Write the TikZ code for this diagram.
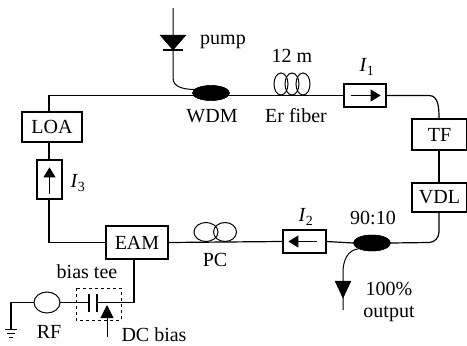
\documentclass[tikz,border=0pt]{standalone}
\usepackage{fontspec}
\setmainfont{Liberation Serif}
\usetikzlibrary{arrows.meta,shapes.geometric}
\tikzset{
  x=1pt,y=-1pt,
  wire/.style={line width=1.2pt,line cap=round},
  thinwire/.style={line width=1pt},
  box/.style={draw,line width=1.2pt,fill=white,inner sep=0pt,font=\fontsize{20}{22}\selectfont},
  lbl/.style={inner sep=0pt,font=\fontsize{20}{22}\selectfont},
  blob/.style={draw,fill=black,ellipse,inner sep=0pt},
  coil/.style={draw,line width=1pt,ellipse,inner sep=0pt},
  isoarrow/.style={line width=1.1pt,-{Triangle[length=10pt,width=12pt]}},
}
\begin{document}
\begin{tikzpicture}
\useasboundingbox (0,0) rectangle (467,346);
% corners and free ends
\coordinate (tl) at (49,96);
\coordinate (bl) at (49,242);
\coordinate (tr) at (439,96);
\coordinate (br) at (439,242);
\coordinate (pumptop) at (173,8);
\coordinate (pumpbend) at (173,78);
\coordinate (outbend) at (343,272);
\coordinate (outend) at (343,310);
\coordinate (eamjoin) at (134,302.5);
\coordinate (gndcorner) at (11,302.5);
\coordinate (gnd) at (11,329);
\coordinate (dcfoot) at (107,337);
\coordinate (dctip) at (107,305);
% main boxes
\node[box,minimum width=60pt,minimum height=30pt] (loa) at (52,127) {LOA};
\node[box,minimum width=25pt,minimum height=39pt] (i3) at (49.5,179.5) {};
\node[box,minimum width=62pt,minimum height=33pt] (eam) at (137,242.5) {EAM};
\node[box,minimum width=43pt,minimum height=23pt] (i2) at (304.5,241.5) {};
\node[box,minimum width=42pt,minimum height=23pt] (i1) at (365,95.5) {};
\node[box,minimum width=55pt,minimum height=31pt] (tf) at (439.5,134.5) {TF};
\node[box,minimum width=55pt,minimum height=29pt] (vdl) at (439.5,197.5) {VDL};
\node[blob,minimum width=37pt,minimum height=15pt] (wdm) at (211,93) {};
\node[blob,minimum width=37pt,minimum height=16pt] (cpl) at (372,243) {};
% loop
\draw[wire] (i1.west) -- (tl |- i1.west) -- (loa.north -| tl);
\draw[wire] (i1.east) -- (429,95.5) to[out=0,in=90] (tf.north -| tr);
\draw[wire] (tf.south -| tr) -- (vdl.north -| tr);
\draw[wire] (vdl.south -| br) -- (439,232) to[out=-90,in=0] (429,242.5) -- (cpl.east);
\draw[wire] (cpl.west) -- (i2.east);
\draw[wire] (i2.west) -- (eam.east);
\draw[wire] (eam.west) -- (bl |- eam.west) -- (i3.south -| bl);
\draw[wire] (i3.north -| bl) -- (loa.south -| bl);
% blobs on top of loop
\node[blob,minimum width=37pt,minimum height=15pt] at (wdm) {};
\node[blob,minimum width=37pt,minimum height=16pt] at (cpl) {};
% isolator arrows
\draw[isoarrow] ([xshift=8pt]i1.west) -- ([xshift=-6pt]i1.east);
\draw[isoarrow] ([xshift=-10pt]i2.east) -- ([xshift=6pt]i2.west);
\draw[isoarrow] ([yshift=6pt]i3.south) -- ([yshift=-8pt]i3.north);
% pump
\draw[thinwire] (pumptop) -- (pumpbend) to[out=-90,in=180] (196,89.5);
\draw[fill=black,line width=0.4pt] (160,35) -- (186,35) -- (173,50) -- cycle;
\draw[line width=1.1pt] (163,50) -- (183,50);
% output
\draw[thinwire] (358,249) to[out=185,in=90] (outbend) -- (outend);
\draw[fill=black,line width=0.4pt] (335,281) -- (351,281) -- (343,298) -- cycle;
% fibre coil
\node[coil,minimum width=14pt,minimum height=22pt] (c1) at (281,84) {};
\node[coil,minimum width=14pt,minimum height=22pt] (c2) at (292,84) {};
\node[coil,minimum width=14pt,minimum height=22pt] (c3) at (303,84) {};
% PC
\node[coil,minimum width=24pt,minimum height=19pt] (p1) at (206,232) {};
\node[coil,minimum width=23pt,minimum height=19pt] (p2) at (225,232) {};
% RF branch
\node[coil,minimum width=26pt,minimum height=21pt] (rf) at (47,302.5) {};
\coordinate (capl) at (89,302.5);
\coordinate (capr) at (97,302.5);
\draw[wire] (eam.south -| eamjoin) -- (eamjoin) -- (capr);
\draw[wire] (rf.east) -- (capl);
\draw[wire] (rf.west) -- (gndcorner) -- (gnd);
\draw[line width=1.2pt] (89,294) -- (89,312) (97,294) -- (97,312);
\draw[line width=1pt] (5,329) -- (17,329) (7,333) -- (15,333) (9,337) -- (13,337);
\draw[line width=0.8pt,dash pattern=on 3pt off 3pt] (76,288) rectangle (121,320);
\draw[line width=1pt,-{Triangle[length=13pt,width=13pt]}] (dcfoot) -- (dctip);
% labels
\node[lbl] (tpump) at (223,42) {pump};
\node[lbl] (t12) at (292,56) {12 m};
\node[lbl] (twdm) at (212,116) {WDM};
\node[lbl] (ter) at (296,116) {Er fiber};
\node[lbl] (ti1) at (367,67) {\textit{I}\textsubscript{1}};
\node[lbl] (ti2) at (306,217) {\textit{I}\textsubscript{2}};
\node[lbl] (ti3) at (78,183) {\textit{I}\textsubscript{3}};
\node[lbl] (t90) at (373,218) {90:10};
\node[lbl] (t100) at (389,289) {100\%};
\node[lbl] (tout) at (389,314) {output};
\node[lbl] (tpc) at (215,260) {PC};
\node[lbl] (tbias) at (87,272) {bias tee};
\node[lbl] (trf) at (49,332) {RF};
\node[lbl] (tdc) at (154,335) {DC bias};
\end{tikzpicture}
\end{document}
